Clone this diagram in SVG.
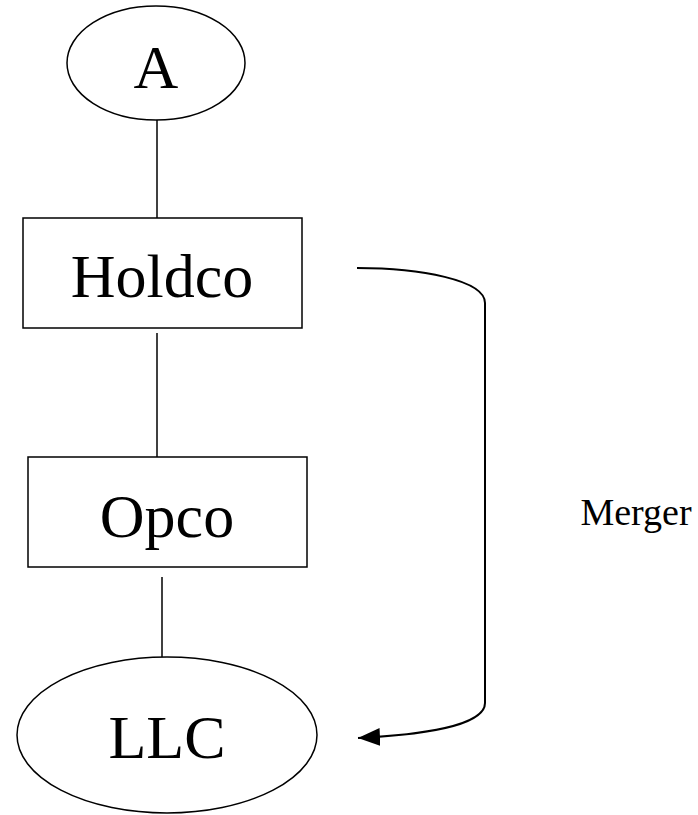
<svg xmlns="http://www.w3.org/2000/svg" width="698" height="815" viewBox="0 0 698 815">
<style>
.shape{fill:#fff;stroke:#000;stroke-width:1.5}
.lbl{font-family:"Liberation Serif","Times New Roman",serif;fill:#000;text-anchor:middle}
.big{font-size:62px}
.conn{fill:none;stroke:#000;stroke-width:1.5}
.merge{fill:none;stroke:#000;stroke-width:2}
</style>
<defs>
<marker id="arr" markerWidth="24" markerHeight="20" refX="22" refY="9" orient="auto" markerUnits="userSpaceOnUse">
<path d="M0,0 L22,9 L0,18 Z" fill="#000"/>
</marker>
</defs>
<rect width="698" height="815" fill="#fff"/>
<g id="connectors">
<line class="conn" x1="157" y1="120" x2="157" y2="218"/>
<line class="conn" x1="157" y1="333" x2="157" y2="457"/>
<line class="conn" x1="162" y1="577" x2="162" y2="657"/>
<path class="merge" d="M357,268 C420,268 485,280 485,303 L485,703 C485,726 420,735 358,738" marker-end="url(#arr)"/>
</g>
<g id="node-A">
<ellipse class="shape" cx="156" cy="63" rx="89" ry="57"/>
<text class="lbl big" x="156" y="88">A</text>
</g>
<g id="node-Holdco">
<rect class="shape" x="23" y="218" width="279" height="110"/>
<text class="lbl big" x="162" y="297">Holdco</text>
</g>
<g id="node-Opco">
<rect class="shape" x="28" y="457" width="279" height="110"/>
<text class="lbl big" x="167" y="537">Opco</text>
</g>
<g id="node-LLC">
<ellipse class="shape" cx="167" cy="735" rx="150" ry="78"/>
<text class="lbl big" x="167" y="758">LLC</text>
</g>
<g id="label-merger">
<text class="lbl" x="636" y="525" font-size="38">Merger</text>
</g>
</svg>
